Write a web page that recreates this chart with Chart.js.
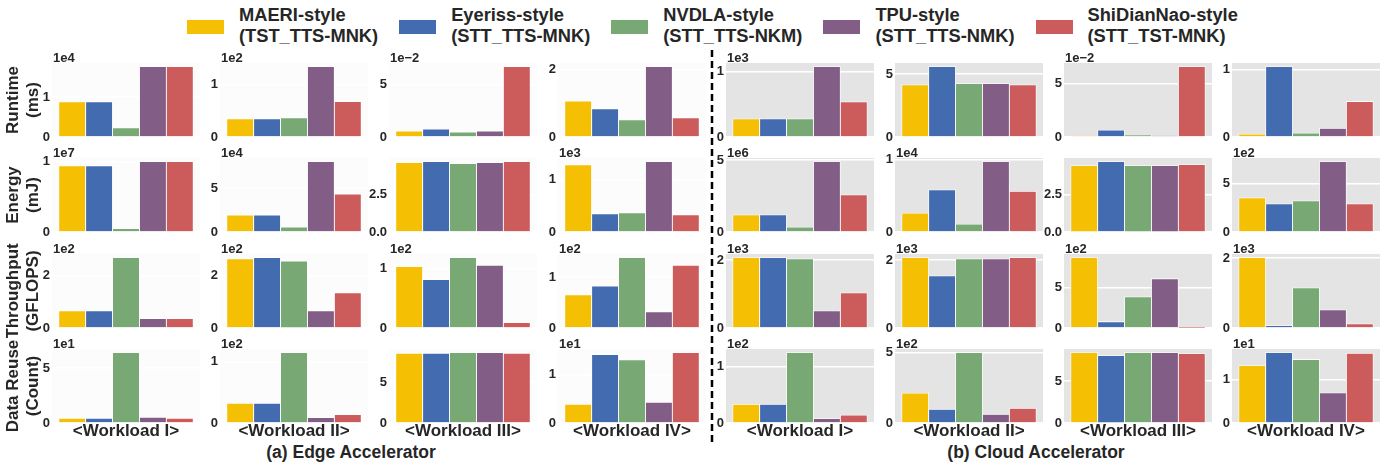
<!DOCTYPE html>
<html>
<head>
<meta charset="utf-8">
<script src="https://cdn.jsdelivr.net/npm/chart.js@4.4.1/dist/chart.umd.min.js"></script>
<style>
  html, body { margin: 0; padding: 0; background: #fff; }
  body {
    width: 1393px; height: 466px; position: relative; overflow: hidden;
    font-family: "Liberation Sans", Arial, sans-serif; color: #262626;
  }
  .panel { position: absolute; }
  #legend {
    position: absolute; left: 187px; top: 4px; display: flex;
    font-weight: bold; font-size: 18.3px; line-height: 21px;
  }
  .item { display: flex; align-items: center; margin-right: 21px; }
  .swatch { width: 37px; height: 14px; margin-right: 15px; position: relative; top: 2px; }
  .caption {
    position: absolute; top: 442px; font-weight: bold; font-size: 17.5px;
    line-height: 20px; white-space: nowrap; transform: translateX(-50%);
  }
  #divider { position: absolute; left: 709px; top: 50px; }
</style>
</head>
<body>
<div id="legend"></div>
<canvas id="divider" width="6" height="396"></canvas>
<div class="caption" style="left:351px">(a) Edge Accelerator</div>
<div class="caption" style="left:1036px">(b) Cloud Accelerator</div>

<script>
// legend entries
const styleNames = ['MAERI-style', 'Eyeriss-style', 'NVDLA-style', 'TPU-style', 'ShiDianNao-style'];
const dataflows = ['(TST_TTS-MNK)', '(STT_TTS-MNK)', '(STT_TTS-NKM)', '(STT_TTS-NMK)', '(STT_TST-MNK)'];
const styleColors = ['#f5bf03', '#436bb0', '#78a874', '#825e86', '#cc5c5c'];

const workloads = ['<Workload I>', '<Workload II>', '<Workload III>', '<Workload IV>'];
const metricTitles = [['Runtime', '(ms)'], ['Energy', '(mJ)'], ['Throughput', '(GFLOPS)'], ['Data Reuse', '(Count)']];

// values per workload (I..IV), in units of the panel multiplier
const runtimeEdge = [
  [0.88, 0.88, 0.23, 1.76, 1.76],
  [0.35, 0.35, 0.37, 1.35, 0.68],
  [0.57, 0.76, 0.48, 0.57, 6.7],
  [1.07, 0.84, 0.51, 2.1, 0.57]
];
const runtimeEdgeMult = ['1e4', '1e2', '1e\u22122', ''];
const runtimeEdgeTicks = [['0', '1'], ['0', '1'], ['0', '5'], ['0', '2']];

const runtimeCloud = [
  [0.28, 0.28, 0.28, 1.08, 0.54],
  [4.15, 5.6, 4.24, 4.24, 4.15],
  [0.09, 0.65, 0.19, 0.08, 6.57],
  [0.045, 1.05, 0.06, 0.13, 0.53]
];
const runtimeCloudMult = ['1e3', '', '1e\u22122', ''];
const runtimeCloudTicks = [['0', '1'], ['0', '5'], ['0', '5'], ['0', '1']];

const energyEdge = [
  [0.94, 0.94, 0.05, 1.0, 1.0],
  [1.95, 1.95, 0.57, 8.05, 4.35],
  [4.66, 4.73, 4.6, 4.66, 4.73],
  [1.29, 0.35, 0.37, 1.35, 0.33]
];
const energyEdgeMult = ['1e7', '1e4', '', '1e3'];
const energyEdgeTicks = [['0', '1'], ['0', '5'], ['0.0', '2.5'], ['0', '1']];

const energyCloud = [
  [1.19, 1.19, 0.35, 4.9, 2.59],
  [0.26, 0.58, 0.11, 0.97, 0.56],
  [4.46, 4.73, 4.46, 4.46, 4.53],
  [3.54, 2.92, 3.23, 7.3, 2.92]
];
const energyCloudMult = ['1e6', '1e4', '', '1e2'];
const energyCloudTicks = [['0', '5'], ['0', '1'], ['0.0', '2.5'], ['0', '5']];

const throughputEdge = [
  [0.66, 0.66, 2.7, 0.36, 0.36],
  [2.65, 2.7, 2.57, 0.66, 1.35],
  [1.03, 0.81, 1.18, 1.05, 0.09],
  [0.65, 0.82, 1.38, 0.32, 1.23]
];
const throughputEdgeMult = ['1e2', '1e2', '1e2', '1e2'];
const throughputEdgeTicks = [['0', '2'], ['0', '2'], ['0', '1'], ['0', '1']];

const throughputCloud = [
  [2.08, 2.08, 2.04, 0.51, 1.04],
  [2.08, 1.54, 2.04, 2.04, 2.08],
  [8.7, 0.78, 3.86, 6.09, 0.05],
  [2.02, 0.07, 1.15, 0.52, 0.12]
];
const throughputCloudMult = ['1e3', '1e3', '1e2', '1e3'];
const throughputCloudTicks = [['0', '2'], ['0', '2'], ['0', '5'], ['0', '2']];

const reuseEdge = [
  [0.43, 0.43, 6.42, 0.52, 0.43],
  [0.32, 0.32, 1.15, 0.09, 0.14],
  [8.5, 8.5, 8.6, 8.6, 8.5],
  [0.39, 1.42, 1.31, 0.43, 1.46]
];
const reuseEdgeMult = ['1e1', '1e2', '', '1e1'];
const reuseEdgeTicks = [['0', '5'], ['0', '1'], ['0', '5'], ['0', '1']];

const reuseCloud = [
  [0.33, 0.33, 1.25, 0.08, 0.14],
  [2.12, 0.98, 5.0, 0.62, 1.05],
  [8.4, 8.03, 8.4, 8.4, 8.27],
  [1.33, 1.63, 1.47, 0.7, 1.61]
];
const reuseCloudMult = ['1e2', '1e2', '', '1e1'];
const reuseCloudTicks = [['0', '1'], ['0', '5'], ['0', '5'], ['0', '1']];

const allValues = [[runtimeEdge, runtimeCloud], [energyEdge, energyCloud],
                   [throughputEdge, throughputCloud], [reuseEdge, reuseCloud]];
const allMults = [[runtimeEdgeMult, runtimeCloudMult], [energyEdgeMult, energyCloudMult],
                  [throughputEdgeMult, throughputCloudMult], [reuseEdgeMult, reuseCloudMult]];
const allTicks = [[runtimeEdgeTicks, runtimeCloudTicks], [energyEdgeTicks, energyCloudTicks],
                  [throughputEdgeTicks, throughputCloudTicks], [reuseEdgeTicks, reuseCloudTicks]];

const platformBg = ['#fcfcfc', '#e4e4e4'];
const TEXT = '#262626';
const FONT = '"Liberation Sans", Arial, sans-serif';

// layout of the grid of small plots
const BG_W = 148, BG_H = 74, PAD_TOP = 16;

Chart.defaults.font.family = FONT;
Chart.defaults.font.weight = 'bold';
Chart.defaults.color = TEXT;

// fills the plot background and writes the "1eN" multiplier above it
const panelDeco = {
  id: 'panelDeco',
  beforeDraw(chart, args, opts) {
    const { ctx, chartArea: a } = chart;
    ctx.save();
    ctx.fillStyle = opts.color;
    ctx.fillRect(a.left, a.top, a.right - a.left, a.bottom - a.top);
    ctx.restore();
  },
  afterDraw(chart, args, opts) {
    if (!opts.mult) return;
    const { ctx, chartArea: a } = chart;
    ctx.save();
    ctx.font = 'bold 13px ' + FONT;
    ctx.fillStyle = TEXT;
    ctx.textBaseline = 'alphabetic';
    ctx.fillText(opts.mult, a.left + 1, a.top - 1);
    ctx.restore();
  }
};

function makePanel(r, p, w) {
  const c = p * 4 + w;
  const vals = allValues[r][p][w];
  const mult = allMults[r][p][w];
  const tickLabels = allTicks[r][p][w];
  const last = r === 3;

  const bgLeft = Math.round(51.6 + c * 168.67);
  const bgTop = Math.round(63 + r * 95.3);
  const yW = c === 0 ? bgLeft : 36;
  const padBottom = last ? 0 : 10;
  const xTitleH = last ? 22 : 0;

  const box = document.createElement('div');
  box.className = 'panel';
  box.style.left = (bgLeft - yW) + 'px';
  box.style.top = (bgTop - PAD_TOP) + 'px';
  box.style.width = (yW + BG_W) + 'px';
  box.style.height = (PAD_TOP + BG_H + padBottom + xTitleH) + 'px';
  const canvas = document.createElement('canvas');
  box.appendChild(canvas);
  document.body.appendChild(box);

  new Chart(canvas, {
    type: 'bar',
    data: {
      datasets: [{
        data: vals.map((v, i) => ({ x: i, y: v })),
        backgroundColor: styleColors,
        borderColor: '#ffffff',
        borderWidth: 0.8,
        categoryPercentage: 1,
        barPercentage: 1
      }]
    },
    options: {
      responsive: true,
      maintainAspectRatio: false,
      animation: false,
      events: [],
      layout: { padding: { top: PAD_TOP, bottom: padBottom, left: 0, right: 0 } },
      plugins: {
        legend: { display: false },
        tooltip: { enabled: false },
        panelDeco: { color: platformBg[p], mult: mult }
      },
      scales: {
        x: {
          type: 'linear', min: -0.75, max: 4.75, bounds: 'data', offset: false,
          display: last,
          // one tick per bar, so the bar width is the full slot
          afterBuildTicks: (s) => { s.ticks = vals.map((v, i) => ({ value: i })); },
          grid: { display: false, drawTicks: false, offset: false },
          border: { display: false },
          ticks: { display: false },
          title: {
            display: last, text: workloads[w], color: TEXT,
            font: { size: 17, weight: 'bold', lineHeight: 1 },
            padding: { top: 0, bottom: 5 }
          }
        },
        y: {
          type: 'linear', min: 0, max: Math.max(...vals) * 1.05, bounds: 'data',
          afterFit: (s) => { s.width = yW; },
          afterBuildTicks: (s) => { s.ticks = tickLabels.map(t => ({ value: parseFloat(t) })); },
          ticks: {
            callback: (v, i) => tickLabels[i],
            padding: 2, color: TEXT,
            font: { size: 13, weight: 'bold' }
          },
          grid: { color: '#ffffff', lineWidth: 1.5, drawTicks: false },
          border: { display: false },
          title: {
            display: c === 0, text: metricTitles[r], color: TEXT,
            font: { size: 17, weight: 'bold', lineHeight: 1.15 },
            padding: { top: 4, bottom: 0 }
          }
        }
      }
    },
    plugins: [panelDeco]
  });
}

// legend
const legend = document.getElementById('legend');
styleNames.forEach((name, i) => {
  const item = document.createElement('div');
  item.className = 'item';
  const sw = document.createElement('div');
  sw.className = 'swatch';
  sw.style.background = styleColors[i];
  const txt = document.createElement('div');
  txt.innerHTML = name + '<br>' + dataflows[i];
  item.appendChild(sw);
  item.appendChild(txt);
  legend.appendChild(item);
});

// dashed separator between edge and cloud
const dctx = document.getElementById('divider').getContext('2d');
dctx.strokeStyle = '#000';
dctx.lineWidth = 2.5;
dctx.setLineDash([7, 4]);
dctx.beginPath();
dctx.moveTo(3, 0);
dctx.lineTo(3, 396);
dctx.stroke();

for (let r = 0; r < 4; r++)
  for (let p = 0; p < 2; p++)
    for (let w = 0; w < 4; w++)
      makePanel(r, p, w);
</script>
</body>
</html>
